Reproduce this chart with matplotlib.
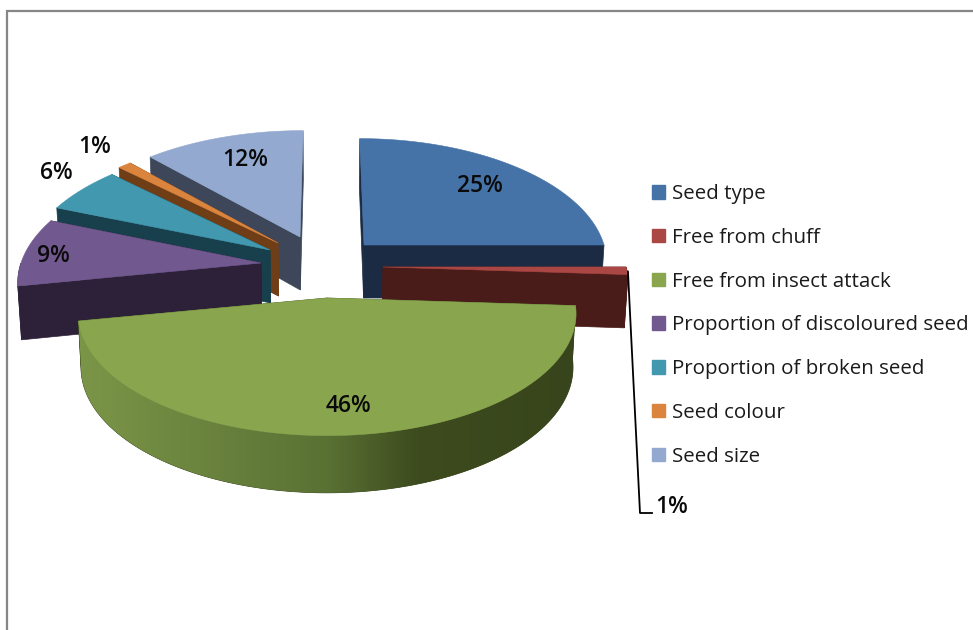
import numpy as np
import matplotlib.pyplot as plt
from matplotlib.patches import Patch, Polygon
from matplotlib.colors import LinearSegmentedColormap

categories = ["Seed type", "Free from chuff", "Free from insect attack",
              "Proportion of discoloured seed", "Proportion of broken seed",
              "Seed colour", "Seed size"]
shares = [25, 1, 46, 9, 6, 1, 12]

top_colors = ["#4572a7", "#aa4643", "#89a54e", "#71588f", "#4198af", "#db843d", "#93a9cf"]
side_colors = ["#1b2b44", "#4a1c19", "#38451c", "#2d2139", "#17404c", "#6f3e17", "#3d4759"]

# pixel position of each exploded slice's tip, and its radius across
tips = [(364, 245), (383, 267), (327, 298), (261, 263), (270, 250), (278, 243), (300, 237)]
radii_x = [240, 243, 247, 240, 243, 243, 243]
label_xy = [(480, 186), (672, 507), (348, 406), (53, 256), (56, 173), (95, 147), (245, 160)]

RY = 120        # radius front to back
TILT = 0.128    # perspective: the back of the pie shrinks
X0 = 327        # vanishing x
DEPTH = 53

plt.rcParams["font.family"] = ["Open Sans", "DejaVu Sans"]

fig = plt.figure(figsize=(9.73, 6.30), dpi=100)
ax = fig.add_axes([0, 0, 1, 1])
ax.axis("off")

green_wall = LinearSegmentedColormap.from_list(
    "wall", [(0, "#7c9648"), (0.5, "#5a7134"), (0.68, "#3d4b1e"), (1, "#38451c")])


def project(tip, rx, theta):
    # theta runs clockwise from 12 o'clock
    u, v = np.sin(theta), np.cos(theta)
    s = 1 + TILT * v
    return X0 + (tip[0] - X0 + rx * u) / s, tip[1] - RY * v / s


def drop(x, y, theta):
    # the same point on the underside of the pie
    return X0 + (x - X0) * 0.988, y + DEPTH * (1 - 0.08 * np.cos(theta))


def draw_slice(i, start, stop, z):
    tip, rx = tips[i], radii_x[i]
    thetas = np.linspace(start, stop, 120)
    xs, ys = project(tip, rx, thetas)

    # flat cut faces, back one first
    for edge in (stop, start):
        ex, ey = project(tip, rx, edge)
        bx, by = drop(ex, ey, edge)
        tx, ty = drop(tip[0], tip[1], np.pi / 2)
        ax.add_patch(Polygon([tip, (ex, ey), (bx, by), (tx, ty)],
                             fc=side_colors[i], ec=side_colors[i], lw=0.5, zorder=z))

    # outer rim, only where it faces the viewer
    front = np.cos(thetas) < 0
    if front.any():
        bx, by = drop(xs[front], ys[front], thetas[front])
        rim = list(zip(xs[front], ys[front])) + list(zip(bx[::-1], by[::-1]))
        patch = Polygon(rim, fc=side_colors[i], ec=side_colors[i], lw=0.5, zorder=z)
        ax.add_patch(patch)
        if i == 2:
            # the big slice's rim fades from left to right
            ramp = np.linspace(0, 1, 256).reshape(1, -1)
            extent = (xs[front].min() - 2, xs[front].max() + 2, by.max() + 2, ys[front].min() - 2)
            im = ax.imshow(ramp, cmap=green_wall, extent=extent, aspect="auto", zorder=z)
            im.set_clip_path(patch)

    ax.add_patch(Polygon([tip] + list(zip(xs, ys)), fc=top_colors[i], ec=top_colors[i],
                         lw=0.4, zorder=z + 0.5))


edges = np.cumsum([0] + shares) / sum(shares) * 2 * np.pi
for z, i in enumerate([6, 5, 4, 3, 0, 1, 2]):
    draw_slice(i, edges[i], edges[i + 1], z + 1)
ax.set_xlim(0, 973)
ax.set_ylim(630, 0)

# frame of the original chart area, left and top only
ax.plot([7, 7, 973], [630, 11, 11], color="#868686", lw=1.6, solid_joinstyle="miter", zorder=10)

# leader line of the small slice
leader_x, leader_y = project(tips[1], radii_x[1], edges[2])
ax.plot([leader_x, 640, 652], [leader_y - 3, 513, 513], color="black", lw=1.3, zorder=10)

for share, (lx, ly) in zip(shares, label_xy):
    ax.text(lx, ly, f"{share}%", ha="center", va="center", fontsize=16.5,
            fontweight="semibold", color="#0a0a0a", zorder=11)

handles = [Patch(fc=c, ec=c, label=n) for c, n in zip(top_colors, categories)]
ax.legend(handles=handles, loc="upper left", bbox_to_anchor=(652, 184), bbox_transform=ax.transData,
          frameon=False, fontsize=14.75, handlelength=0.64, handleheight=0.64, handletextpad=0.36,
          labelspacing=1.16, borderpad=0, borderaxespad=0, labelcolor="#1a1a1a")

fig.savefig("out.png", dpi=100)
